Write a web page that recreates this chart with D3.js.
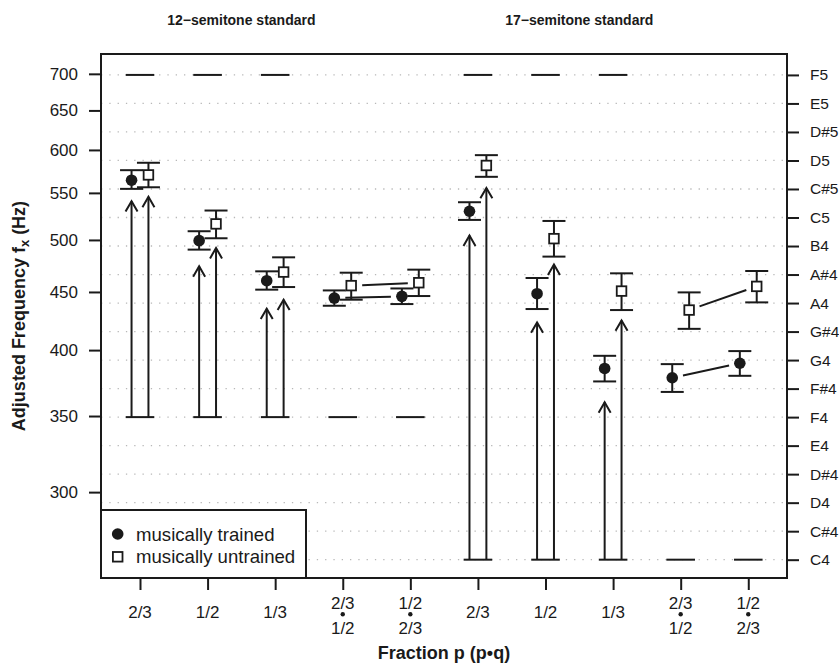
<!DOCTYPE html>
<html>
<head>
<meta charset="utf-8">
<script src="https://cdnjs.cloudflare.com/ajax/libs/d3/7.8.5/d3.min.js"></script>
<style>
body { margin: 0; background: #fff; }
text { font-family: "Liberation Sans", Arial, sans-serif; fill: #1a1a1a; }
.titre { font-weight: bold; }
</style>
</head>
<body>
<div id="chart"></div>
<script>
// positions des groupes et etiquettes de l'axe x
var groupes = [1, 2, 3, 4, 5, 6, 7, 8, 9, 10];
var etiquettesHaut = ["2/3", "1/2", "1/3", "2/3", "1/2", "2/3", "1/2", "1/3", "2/3", "1/2"];
var etiquettesBas = ["", "", "", "1/2", "2/3", "", "", "", "1/2", "2/3"];

// musically trained
var trainedMoy = [564.3, 499.3, 460.4, 444.5, 446.0, 529.9, 448.4, 385.4, 378.2, 389.5];
var trainedBas = [554.5, 490.3, 452.1, 437.6, 439.1, 520.7, 434.7, 375.4, 367.5, 379.7];
var trainedHaut = [575.9, 508.9, 469.2, 451.4, 453.2, 539.7, 462.9, 395.4, 388.8, 399.2];
var trainedFleche = [540.8, 474.0, 435.0, null, null, 504.4, 423.1, 359.9, null, null];

// musically untrained
var untrainedMoy = [570.4, 516.5, 468.5, 455.8, 458.5, 581.4, 501.3, 450.8, 433.8, 455.1];
var untrainedBas = [556.3, 501.7, 454.5, 443.0, 446.3, 568.2, 483.4, 433.8, 417.6, 440.6];
var untrainedHaut = [584.6, 530.7, 482.7, 467.9, 470.8, 593.7, 519.6, 467.3, 449.6, 469.5];
var untrainedFleche = [545.6, 491.9, 443.0, null, null, 555.6, 475.7, 424.8, null, null];

// tons standard (bas et haut) de chaque groupe
var standardBas = [349.23, 349.23, 349.23, 349.23, 349.23, 261.63, 261.63, 261.63, 261.63, 261.63];
var standardHaut = [698.46, 698.46, 698.46, null, null, 698.46, 698.46, 698.46, null, null];

// axes
var ticksHz = [300, 350, 400, 450, 500, 550, 600, 650, 700];
var notes = ["C4", "C#4", "D4", "D#4", "E4", "F4", "F#4", "G4", "G#4", "A4", "A#4", "B4", "C5", "C#5", "D5", "D#5", "E5", "F5"];
var notesHz = [261.63, 277.18, 293.66, 311.13, 329.63, 349.23, 369.99, 392.00, 415.30, 440.00, 466.16, 493.88, 523.25, 554.37, 587.33, 622.25, 659.26, 698.46];
var titresHaut = [{ x: 2.5, t: "12\u2212semitone standard" }, { x: 7.5, t: "17\u2212semitone standard" }];

var width = 839, height = 665;
var margin = { left: 101, right: 52, top: 54, bottom: 87 };
var noir = "#1a1a1a";

var svg = d3.select("#chart").append("svg")
    .attr("width", width)
    .attr("height", height);

var x = d3.scaleLinear().domain([0.423, 10.573]).range([margin.left, width - margin.right]);
var y = d3.scaleLog().domain([252.1, 728.7]).range([height - margin.bottom, margin.top]);

var decal = 0.125; // decalage trained / untrained

// lignes pointillees a chaque demi-ton
svg.append("g").selectAll("line").data(notesHz).enter().append("line")
    .attr("x1", margin.left).attr("x2", width - margin.right)
    .attr("y1", function(d) { return y(d); }).attr("y2", function(d) { return y(d); })
    .attr("stroke", "#b8b8b8").attr("stroke-width", 1.3)
    .attr("stroke-dasharray", "1.3,7");

// axe gauche
var axeG = svg.append("g")
    .attr("transform", "translate(" + margin.left + ",0)")
    .call(d3.axisLeft(y).tickValues(ticksHz).tickFormat(d3.format("d")).tickSizeOuter(0).tickSize(12).tickPadding(11));
// axe droit
var axeD = svg.append("g")
    .attr("transform", "translate(" + (width - margin.right) + ",0)")
    .call(d3.axisRight(y).tickValues(notesHz).tickFormat(function(d, i) { return notes[i]; }).tickSizeOuter(0).tickSize(12).tickPadding(11));
// axe bas
var axeB = svg.append("g")
    .attr("transform", "translate(0," + (height - margin.bottom) + ")")
    .call(d3.axisBottom(x).tickValues(groupes).tickFormat("").tickSizeOuter(0).tickSize(12));

[axeG, axeD, axeB].forEach(function(a) {
    a.select(".domain").remove();
    a.selectAll(".tick line").attr("stroke", noir).attr("stroke-width", 2);
});
axeG.selectAll(".tick text").style("font-size", "17px").attr("fill", noir);
axeD.selectAll(".tick text").style("font-size", "15.5px").attr("fill", noir);

// etiquettes de l'axe x (fractions)
var eti = svg.append("g").selectAll("g").data(groupes).enter().append("g");
eti.append("text")
    .attr("x", function(d) { return x(d); })
    .attr("y", function(d, i) { return etiquettesBas[i] ? 609 : 618; })
    .attr("text-anchor", "middle")
    .style("font-size", "17px")
    .text(function(d, i) { return etiquettesHaut[i]; });
eti.filter(function(d, i) { return etiquettesBas[i]; }).append("text")
    .attr("x", function(d) { return x(d); })
    .attr("y", 634)
    .attr("text-anchor", "middle")
    .style("font-size", "17px")
    .text(function(d) { return etiquettesBas[d - 1]; });
eti.filter(function(d, i) { return etiquettesBas[i]; }).append("circle")
    .attr("cx", function(d) { return x(d); })
    .attr("cy", 614.3)
    .attr("r", 2.2)
    .attr("fill", noir);

// traits des tons standard
function tiret(val) {
    svg.append("g").selectAll("line").data(groupes.filter(function(d, i) { return val[i] != null; })).enter().append("line")
        .attr("x1", function(d) { return x(d) - 14.3; })
        .attr("x2", function(d) { return x(d) + 14.3; })
        .attr("y1", function(d) { return y(val[d - 1]); })
        .attr("y2", function(d) { return y(val[d - 1]); })
        .attr("stroke", noir).attr("stroke-width", 2);
}
tiret(standardBas);
tiret(standardHaut);

// fleches depuis le ton standard bas
function fleches(tip, dx) {
    var g = svg.append("g").attr("stroke", noir).attr("stroke-width", 2).attr("fill", "none");
    groupes.forEach(function(d, i) {
        if (tip[i] == null) return;
        var xx = x(d + dx), y0 = y(standardBas[i]), y1 = y(tip[i]);
        g.append("line").attr("x1", xx).attr("x2", xx).attr("y1", y0).attr("y2", y1);
        var L = 12, a = Math.PI / 6;
        g.append("path")
            .attr("d", "M" + (xx - L * Math.sin(a)) + "," + (y1 + L * Math.cos(a)) +
                "L" + xx + "," + y1 +
                "L" + (xx + L * Math.sin(a)) + "," + (y1 + L * Math.cos(a)));
    });
}
fleches(trainedFleche, -decal);
fleches(untrainedFleche, decal);

// lignes qui relient les fractions doubles
function liaison(moy, dx, a, b) {
    var x1 = x(a + dx), y1 = y(moy[a - 1]), x2 = x(b + dx), y2 = y(moy[b - 1]);
    var len = Math.sqrt((x2 - x1) * (x2 - x1) + (y2 - y1) * (y2 - y1));
    var g = 11 / len;
    svg.append("line")
        .attr("x1", x1 + (x2 - x1) * g).attr("y1", y1 + (y2 - y1) * g)
        .attr("x2", x2 - (x2 - x1) * g).attr("y2", y2 - (y2 - y1) * g)
        .attr("stroke", noir).attr("stroke-width", 2);
}
liaison(trainedMoy, -decal, 4, 5);
liaison(untrainedMoy, decal, 4, 5);
liaison(trainedMoy, -decal, 9, 10);
liaison(untrainedMoy, decal, 9, 10);

// barres d'erreur + symboles
function serie(moy, bas, haut, dx, carre) {
    var g = svg.append("g");
    groupes.forEach(function(d, i) {
        var xx = x(d + dx);
        var e = g.append("g").attr("stroke", noir).attr("stroke-width", 2);
        e.append("line").attr("x1", xx).attr("x2", xx).attr("y1", y(bas[i])).attr("y2", y(haut[i]));
        e.append("line").attr("x1", xx - 11.5).attr("x2", xx + 11.5).attr("y1", y(bas[i])).attr("y2", y(bas[i]));
        e.append("line").attr("x1", xx - 11.5).attr("x2", xx + 11.5).attr("y1", y(haut[i])).attr("y2", y(haut[i]));
        if (carre) {
            g.append("rect").attr("x", xx - 4.8).attr("y", y(moy[i]) - 4.8)
                .attr("width", 9.6).attr("height", 9.6)
                .attr("fill", "#fff").attr("stroke", noir).attr("stroke-width", 1.8);
        } else {
            g.append("circle").attr("cx", xx).attr("cy", y(moy[i])).attr("r", 5.8).attr("fill", noir);
        }
    });
}
serie(trainedMoy, trainedBas, trainedHaut, -decal, false);
serie(untrainedMoy, untrainedBas, untrainedHaut, decal, true);

// cadre
svg.append("rect")
    .attr("x", margin.left).attr("y", margin.top)
    .attr("width", width - margin.left - margin.right)
    .attr("height", height - margin.top - margin.bottom)
    .attr("fill", "none").attr("stroke", noir).attr("stroke-width", 2);

// legende
var leg = svg.append("g");
leg.append("rect").attr("x", margin.left).attr("y", 510).attr("width", 205).attr("height", 68)
    .attr("fill", "#fff").attr("stroke", noir).attr("stroke-width", 2);
leg.append("circle").attr("cx", 117.7).attr("cy", 534).attr("r", 5.8).attr("fill", noir);
leg.append("rect").attr("x", 112.9).attr("y", 552).attr("width", 9.6).attr("height", 9.6)
    .attr("fill", "#fff").attr("stroke", noir).attr("stroke-width", 1.8);
leg.append("text").attr("x", 136).attr("y", 540.5).style("font-size", "18.6px").text("musically trained");
leg.append("text").attr("x", 136).attr("y", 563).style("font-size", "18.6px").text("musically untrained");

// titres
svg.selectAll(".titreHaut").data(titresHaut).enter().append("text")
    .attr("class", "titre")
    .attr("x", function(d) { return x(d.x); })
    .attr("y", 25)
    .attr("text-anchor", "middle")
    .style("font-size", "14px")
    .text(function(d) { return d.t; });

svg.append("text")
    .attr("class", "titre")
    .attr("x", (margin.left + width - margin.right) / 2)
    .attr("y", 659)
    .attr("text-anchor", "middle")
    .style("font-size", "18px")
    .text("Fraction p (p\u2022q)");

var ty = svg.append("text")
    .attr("class", "titre")
    .attr("transform", "translate(25," + ((margin.top + height - margin.bottom) / 2) + ") rotate(-90)")
    .attr("text-anchor", "middle")
    .style("font-size", "18px");
ty.append("tspan").text("Adjusted Frequency f");
ty.append("tspan").attr("dy", 4).style("font-size", "13px").text("x");
ty.append("tspan").attr("dy", -4).text(" (Hz)");
</script>
</body>
</html>
